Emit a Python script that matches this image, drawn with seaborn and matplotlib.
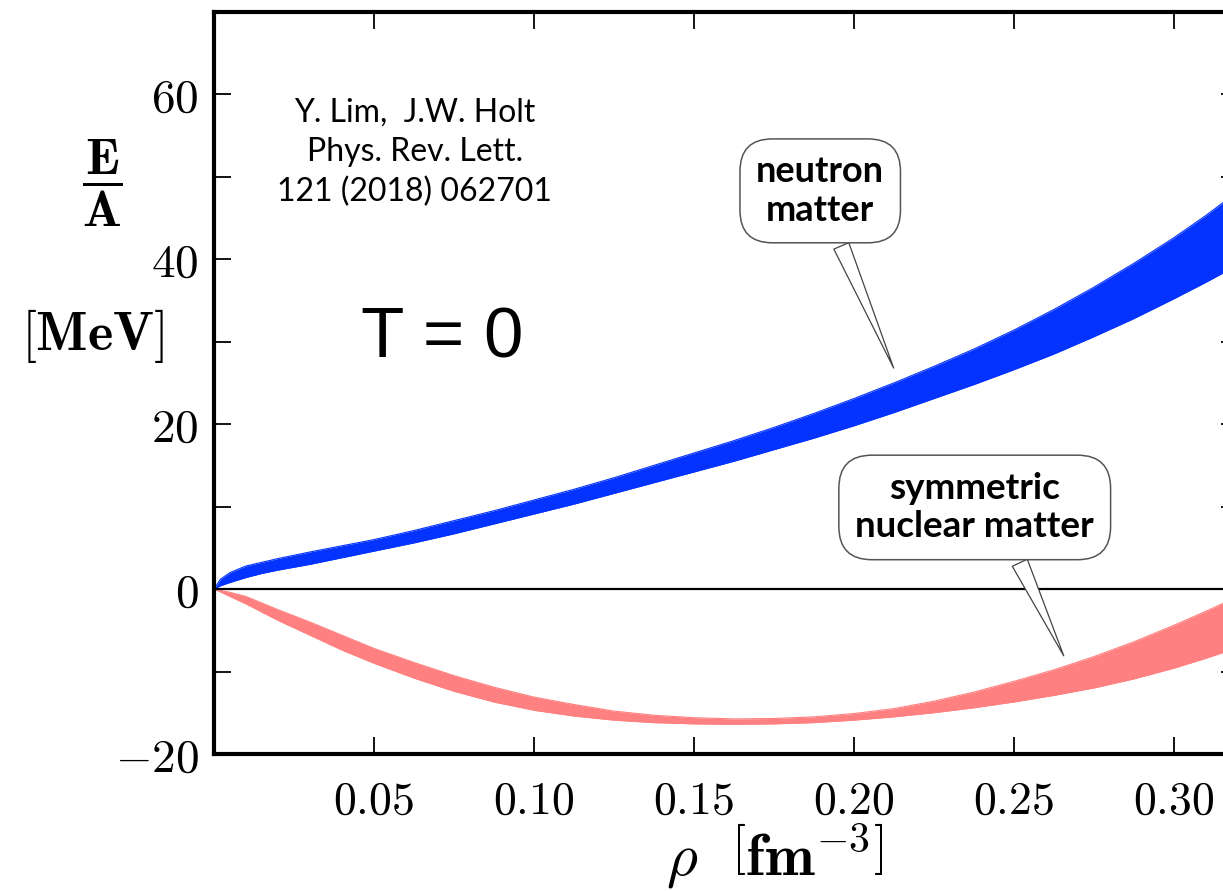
import numpy as np
import pandas as pd
import matplotlib
matplotlib.use("Agg")
import matplotlib.pyplot as plt
import seaborn as sns
from matplotlib.ticker import MultipleLocator, FixedLocator, FuncFormatter

# ---- data ----
rho = [0.0, 0.002, 0.005, 0.01, 0.015, 0.02, 0.03, 0.04, 0.05, 0.0625, 0.075, 0.0875,
       0.10, 0.1125, 0.125, 0.1375, 0.15, 0.1625, 0.175, 0.1875, 0.20, 0.2125, 0.225,
       0.2375, 0.25, 0.2625, 0.275, 0.2875, 0.30, 0.31, 0.32]
nm_upper = [0.0, 1.2, 2.0, 2.8, 3.25, 3.7, 4.5, 5.25, 6.0, 7.1, 8.3, 9.5,
            10.8, 12.1, 13.5, 15.0, 16.5, 18.0, 19.6, 21.3, 23.1, 25.0, 27.0,
            29.1, 31.4, 33.9, 36.6, 39.5, 42.6, 45.3, 48.2]
nm_lower = [0.0, 0.4, 0.8, 1.4, 1.9, 2.3, 3.0, 3.8, 4.6, 5.6, 6.7, 7.9,
            9.1, 10.3, 11.6, 12.9, 14.2, 15.5, 16.9, 18.3, 19.8, 21.4, 23.1,
            24.8, 26.6, 28.5, 30.6, 32.8, 35.2, 37.2, 39.3]
snm_upper = [0.0, -0.15, -0.4, -0.9, -1.7, -2.5, -4.0, -5.6, -7.2, -8.9, -10.5, -11.9,
             -13.1, -14.0, -14.8, -15.3, -15.6, -15.75, -15.7, -15.5, -15.1, -14.5, -13.6,
             -12.5, -11.2, -9.8, -8.2, -6.4, -4.4, -2.7, -0.9]
snm_lower = [0.0, -0.35, -0.9, -1.8, -2.8, -3.8, -5.6, -7.4, -9.0, -10.8, -12.4, -13.7,
             -14.7, -15.4, -15.9, -16.2, -16.35, -16.4, -16.35, -16.2, -15.9, -15.5, -15.0,
             -14.4, -13.7, -12.9, -12.0, -10.9, -9.6, -8.4, -7.1]

x_ticks = [0.05, 0.10, 0.15, 0.20, 0.25, 0.30]
y_ticks = [-20, 0, 20, 40, 60]

citation = "Y. Lim,  J.W. Holt\nPhys. Rev. Lett.\n121 (2018) 062701"
temp_label = "T = 0"
nm_label = "neutron\nmatter"
snm_label = "symmetric\nnuclear matter"

blue = "#0433FF"
red = "#FF8080"

sns.set_theme(style="white")
plt.rcParams["mathtext.fontset"] = "cm"
plt.rcParams["font.family"] = ["DejaVu Sans"]
for k in ["text.color", "axes.labelcolor", "xtick.color", "ytick.color", "axes.edgecolor"]:
    plt.rcParams[k] = "black"

df = pd.DataFrame({"rho": rho, "nm_u": nm_upper, "nm_l": nm_lower,
                   "snm_u": snm_upper, "snm_l": snm_lower})

fig = plt.figure(figsize=(12.23, 8.91), dpi=100)
ax = fig.add_axes([0.175, 0.1538, 0.837, 0.8328])

ax.fill_between(df["rho"], df["nm_l"], df["nm_u"], color=blue, lw=0)
ax.fill_between(df["rho"], df["snm_l"], df["snm_u"], color=red, lw=0)
for col, c in [("nm_u", blue), ("nm_l", blue), ("snm_u", red), ("snm_l", red)]:
    sns.lineplot(data=df, x="rho", y=col, color=c, lw=0.8, ax=ax, legend=False)

ax.axhline(0, color="black", lw=1.6, zorder=3)

ax.set_xlim(0, 0.32)
ax.set_ylim(-20, 70)
ax.set_xlabel("")
ax.set_ylabel("")

ax.xaxis.set_major_locator(FixedLocator(x_ticks))
ax.xaxis.set_major_formatter(FuncFormatter(lambda v, p: f"${v:.2f}$"))
ax.yaxis.set_major_locator(FixedLocator(y_ticks))
ax.yaxis.set_minor_locator(MultipleLocator(10))
ax.yaxis.set_major_formatter(FuncFormatter(lambda v, p: f"${v:g}$"))

ax.tick_params(axis="both", which="both", direction="in", top=True, right=True,
               left=True, bottom=True, length=12, width=1.3, color="black",
               labelcolor="black")
ax.tick_params(axis="y", which="major", pad=11, labelsize=34)
ax.tick_params(axis="x", which="major", pad=18, labelsize=33)
ax.tick_params(axis="x", which="minor", bottom=False, top=False)

for s in ax.spines.values():
    s.set_linewidth(3.0)
    s.set_color("black")
ax.grid(False)

# axis labels
fig.text(102 / 1223, 1 - 183 / 891, r"$\dfrac{\mathbf{E}}{\mathbf{A}}$",
         fontsize=37, ha="center", va="center")
fig.text(93 / 1223, 1 - 336 / 891, r"$[\mathbf{MeV}]$",
         fontsize=39, ha="center", va="center")
fig.text(775 / 1223, 1 - 856 / 891, r"$\rho\ \ \left[\mathbf{fm}^{\mathbf{-3}}\right]$",
         fontsize=43, ha="center", va="center")

# annotations
ax.text(0.0628, 53.0, citation, fontsize=23, family=["Lato", "DejaVu Sans"],
        ha="center", va="center", linespacing=1.4)
ax.text(0.0712, 30.3, temp_label, fontsize=51, family=["Liberation Sans", "DejaVu Sans"],
        ha="center", va="center")

box = dict(boxstyle="round,pad=0.45,rounding_size=0.9", fc="white", ec="#555555", lw=1.1)
ax.annotate(nm_label, xy=(0.2128, 26.5), xytext=(0.1895, 48.3),
            fontsize=26, fontweight="bold", family=["Lato", "DejaVu Sans"],
            ha="center", va="center", linespacing=1.2, bbox=box,
            arrowprops=dict(arrowstyle="wedge,tail_width=0.45,shrink_factor=0.5",
                            fc="white", ec="#444444", lw=0.9, relpos=(0.6, 0.0)))
ax.annotate(snm_label, xy=(0.2660, -8.4), xytext=(0.2378, 9.9),
            fontsize=26.5, fontweight="bold", family=["Lato", "DejaVu Sans"],
            ha="center", va="center", linespacing=1.2, bbox=box,
            arrowprops=dict(arrowstyle="wedge,tail_width=0.45,shrink_factor=0.5",
                            fc="white", ec="#444444", lw=0.9, relpos=(0.65, 0.0)))

fig.savefig("out.png", dpi=100)
